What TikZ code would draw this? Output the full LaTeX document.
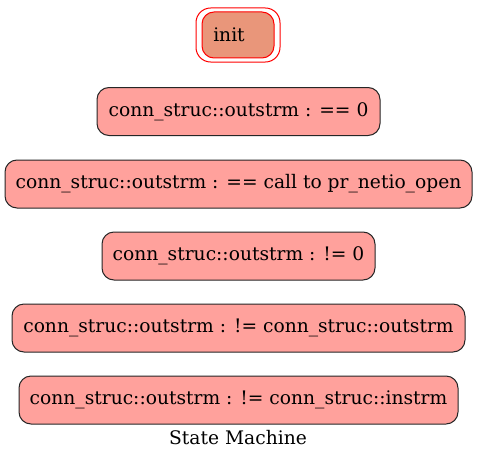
\documentclass[tikz,border=0pt]{standalone}
\usepackage{fontspec}
\setmainfont{DejaVu Serif}
\usepackage{tikz}
\definecolor{statefill}{HTML}{FFA19C}
\definecolor{initfill}{HTML}{E9967A}
\tikzset{
  state/.style={draw=black!85, fill=statefill, rounded corners=9pt, line width=0.75pt,
    minimum height=36pt, inner sep=0pt, font=\fontsize{14}{16}\selectfont},
  initbox/.style={draw=red, fill=initfill, rounded corners=9pt, line width=0.75pt,
    minimum width=54pt, minimum height=34.5pt, inner sep=0pt},
  initouter/.style={draw=red, rounded corners=11pt, line width=0.75pt,
    minimum width=63pt, minimum height=40.5pt, inner sep=0pt},
  lbl/.style={font=\fontsize{14}{16}\selectfont, inner sep=0pt}
}
\begin{document}
\begin{tikzpicture}[x=0.75pt,y=-0.75pt]
\useasboundingbox (0,0) rectangle (477,460);
\node[initouter] (initout) at (238,35) {};
\node[initbox] (init) at (238,35) {};
\node[lbl, anchor=west] (inittext) at (213,35) {init};
\node[state, minimum width=212.25pt] (s1) at (238.5,111.5) {conn\_struc::outstrm : == 0};
\node[state, minimum width=350.25pt] (s2) at (238.5,184) {conn\_struc::outstrm : == call to pr\_netio\_open};
\node[state, minimum width=204.75pt] (s3) at (238.5,256) {conn\_struc::outstrm : != 0};
\node[state, minimum width=339.75pt] (s4) at (238.5,328) {conn\_struc::outstrm : != conn\_struc::outstrm};
\node[state, minimum width=329.25pt] (s5) at (238.5,400) {conn\_struc::outstrm : != conn\_struc::instrm};
\node[lbl] (title) at (238,438) {State Machine};
\end{tikzpicture}
\end{document}
